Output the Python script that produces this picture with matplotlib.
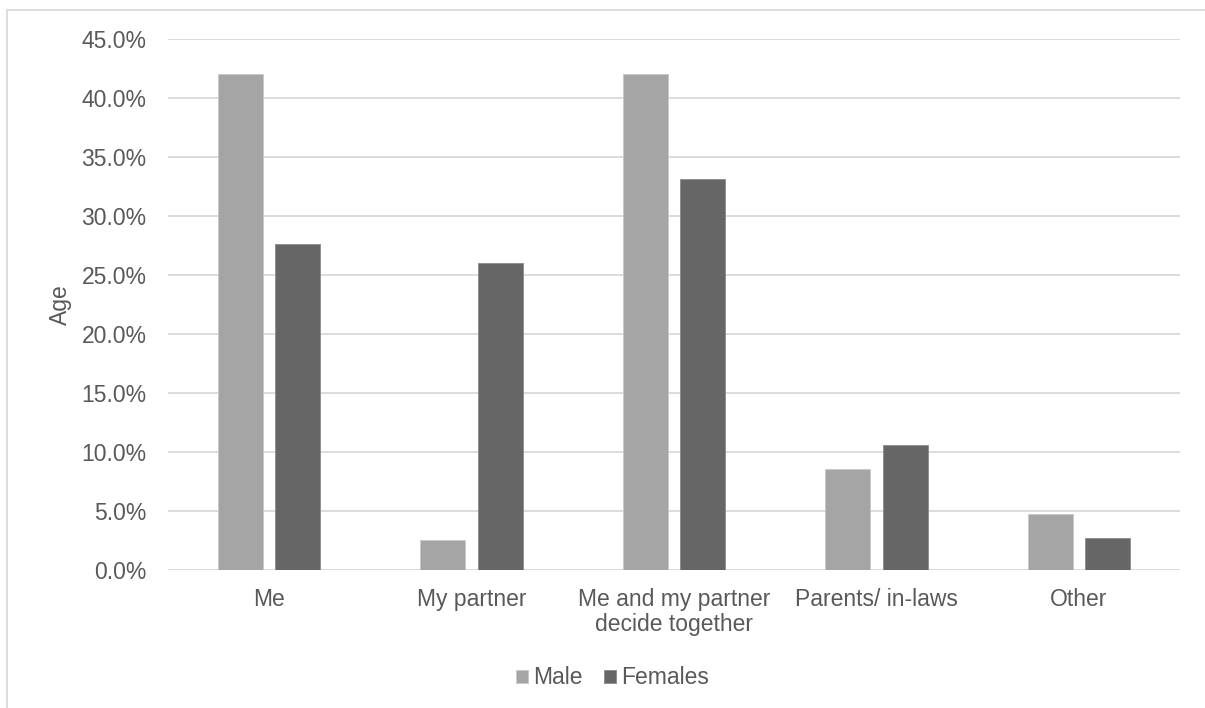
import numpy as np
import matplotlib.pyplot as plt
from matplotlib.patches import Rectangle
from matplotlib.ticker import FuncFormatter

plt.rcParams['font.family'] = ['Liberation Sans', 'DejaVu Sans']

categories = ['Me', 'My partner', 'Me and my partner\ndecide together',
              'Parents/ in-laws', 'Other']
male = [42.0, 2.6, 42.0, 8.6, 4.8]
females = [27.6, 26.0, 33.1, 10.6, 2.7]

text_col = '#595959'
male_col = '#a5a5a5'
female_col = '#666666'
fs = 16.5

fig = plt.figure(figsize=(12.05, 7.08), dpi=100)
ax = fig.add_axes([168 / 1205, 1 - 570.3 / 708, (1180 - 168) / 1205, (570.3 - 39) / 708])

x = np.arange(len(categories))
w = 0.222
off = 0.142
ax.bar(x - off, male, w, color=male_col, edgecolor='#c8c8c8', linewidth=0.6,
       label='Male', zorder=3)
ax.bar(x + off, females, w, color=female_col, edgecolor='#8a8a8a', linewidth=0.6,
       label='Females', zorder=3)

ax.set_xlim(-0.5, len(categories) - 0.5)
ax.set_ylim(0, 45)
ax.set_yticks(np.arange(0, 46, 5))
ax.yaxis.set_major_formatter(FuncFormatter(lambda v, p: f'{v:.1f}%'))
ax.set_xticks(x)
ax.set_xticklabels(categories)
ax.tick_params(axis='both', length=0, labelsize=fs, colors=text_col)
ax.tick_params(axis='y', pad=15.5)
ax.tick_params(axis='x', pad=13)
for lbl in ax.get_xticklabels():
    lbl.set_linespacing(1.1)

ax.grid(axis='y', color='#d9d9d9', linewidth=1.3, zorder=0)
for s in ax.spines.values():
    s.set_visible(False)

ax.set_ylabel('Age', fontsize=fs, color=text_col)
ax.yaxis.set_label_coords(72 / 1205, 1 - 305 / 708, transform=fig.transFigure)

leg = fig.legend(loc='center', bbox_to_anchor=(612.5 / 1205, 1 - 678 / 708), ncol=2,
                 frameon=False, fontsize=fs, handlelength=0.52, handleheight=0.52,
                 handletextpad=0.25, columnspacing=0.9, labelcolor=text_col,
                 borderaxespad=0, borderpad=0)

# outer chart frame
fig.patches.append(Rectangle((7 / 1205, -0.05), 1.1, 1 - 10 / 708 + 0.05,
                             transform=fig.transFigure, fill=False,
                             edgecolor='#d9d9d9', linewidth=1.3))

fig.savefig('out.png', dpi=100)
